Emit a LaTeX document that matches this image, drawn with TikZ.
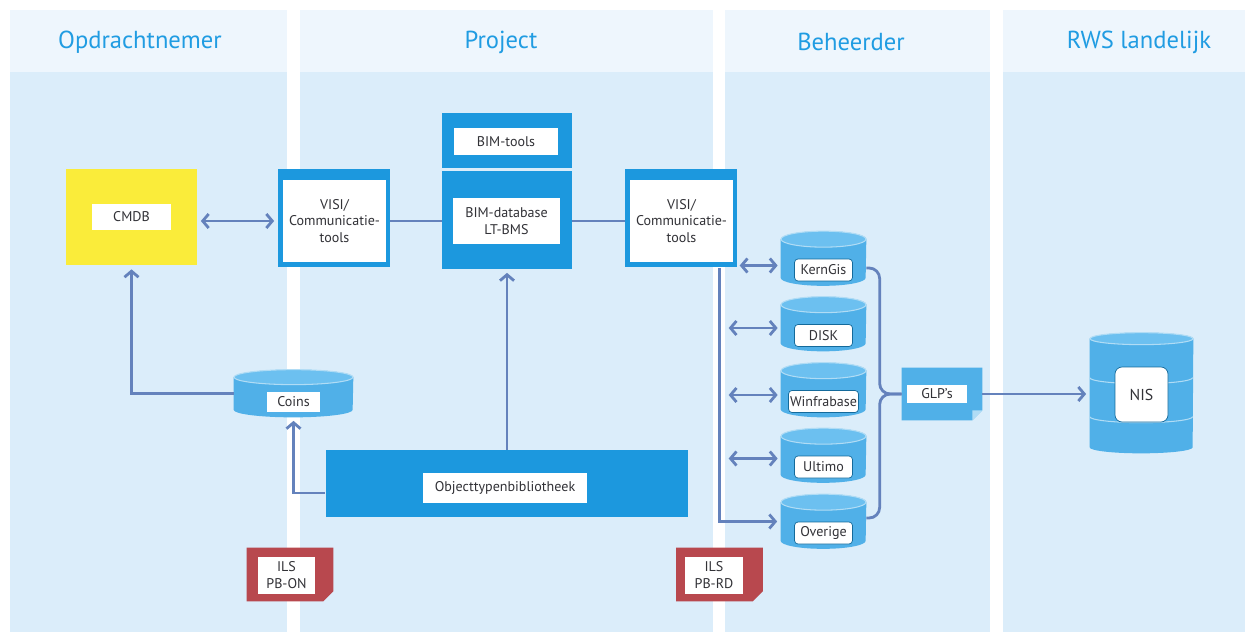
\documentclass[tikz,border=0pt]{standalone}
\usepackage{fontspec}
\setmainfont{PT Sans}
\usetikzlibrary{arrows.meta}

\definecolor{hdrbg}{RGB}{238,246,253}
\definecolor{bodybg}{RGB}{219,237,250}
\definecolor{headblue}{RGB}{32,156,226}
\definecolor{rwsblue}{RGB}{28,152,222}
\definecolor{cylblue}{RGB}{80,176,232}
\definecolor{cyltop}{RGB}{108,192,240}
\definecolor{linkblue}{RGB}{100,130,188}
\definecolor{cmdbyellow}{RGB}{250,236,58}
\definecolor{ilsred}{RGB}{184,72,78}
\definecolor{tagtext}{RGB}{50,50,55}

% cylinder body behind a node: name, half width, cap radius
\newcommand\dbbody[3]{%
  \fill[cylblue] ([yshift=-#3]#1.north west) -- ([yshift=#3]#1.south west)
    arc[start angle=180, end angle=360, x radius=#2, y radius=#3]
    -- ([yshift=-#3]#1.north east)
    arc[start angle=0, end angle=180, x radius=#2, y radius=#3] -- cycle;
  \draw[white!55!cylblue, fill=cyltop, line width=0.6pt]
    ([yshift=-#3]#1.north) ellipse[x radius=#2, y radius=#3];
}
% box with the lower right corner cut off: name, colour, cut
\newcommand\cutfill[3]{%
  \fill[#2] (#1.north west) -- (#1.north east) -- ([yshift=#3]#1.south east)
    -- ([xshift=-#3]#1.south east) -- (#1.south west) -- cycle;
}

\begin{document}
\begin{tikzpicture}
  [
    x=0.02cm, y=-0.02cm,
    >={Straight Barb[length=3.4pt,width=8pt]},
    every node/.style={font=\fontsize{8}{9.6}\selectfont, inner sep=0pt, text=tagtext},
    head/.style={font=\fontsize{14}{16}\selectfont, text=headblue},
    tool/.style={fill=rwsblue, minimum width=2.6cm},
    visi/.style={fill=rwsblue, minimum width=2.24cm, minimum height=1.98cm},
    tag/.style={fill=white, align=center},
    db/.style={minimum width=1.7cm, minimum height=1.08cm},
    dbtag/.style={fill=white, draw=rwsblue!70!black, line width=0.4pt,
      rounded corners=2pt, minimum width=1.16cm, minimum height=0.44cm},
    link/.style={draw=linkblue, line width=1.6pt}
  ]
  \fill[white] (0,0) rectangle (1255,635);
  \useasboundingbox (0,0) rectangle (1255,635);

  \foreach \a/\b in {10/287, 300/713, 725/990, 1003/1245} {
    \fill[hdrbg] (\a,10) rectangle (\b,72);
    \fill[bodybg] (\a,72) rectangle (\b,632);
  }

  \node[head] (opdr) at (140,42) {Opdrachtnemer};
  \node[head] (proj) at (501,42) {Project};
  \node[head] (beh) at (851,42) {Beheerder};
  \node[head] (rws) at (1139,42) {RWS landelijk};

  % opdrachtnemer and project
  \node[fill=cmdbyellow, minimum width=2.62cm, minimum height=1.94cm] (cmdb) at (131.5,217) {};
  \node[tag, minimum width=1.6cm, minimum height=0.54cm] (cmdb-t) at (cmdb) {CMDB};

  \node[visi] (visiL) at (334,218) {};
  \node[tag, minimum width=2.06cm, minimum height=1.64cm] (visiL-t) at (334.5,221)
    {VISI/\\Communicatie-\\tools};

  \node[tool, minimum height=1.1cm] (bimt) at (507,140.5) {};
  \node[tag, minimum width=2.08cm, minimum height=0.54cm] (bimt-t) at (506,141.5) {BIM-tools};
  \node[tool, minimum height=1.96cm] (bimdb) at (507,220) {};
  \node[tag, minimum width=2.14cm, minimum height=0.92cm] (bimdb-t) at (506.5,221)
    {BIM-database\\LT-BMS};

  \node[visi] (visiR) at (681,218) {};
  \node[tag, minimum width=2.06cm, minimum height=1.64cm] (visiR-t) at (681.5,221)
    {VISI/\\Communicatie-\\tools};

  \node[fill=rwsblue, minimum width=7.26cm, minimum height=1.34cm] (otb) at (507,483.5) {};
  \node[tag, minimum width=3.28cm, minimum height=0.6cm] (otb-t) at (505,488) {Objecttypenbibliotheek};

  \node[minimum width=2.38cm, minimum height=0.94cm] (coins) at (293.5,393.5) {};
  \dbbody{coins}{1.19cm}{0.15cm}
  \node[tag, minimum width=1.06cm, minimum height=0.4cm] (coins-t) at (293.5,402) {Coins};

  \node[minimum width=1.72cm, minimum height=1.06cm] (ilsON) at (290,574.5) {};
  \cutfill{ilsON}{ilsred}{0.2cm}
  \node[tag, minimum width=1.16cm, minimum height=0.74cm] (ilsON-t) at (286.5,575) {ILS\\PB-ON};

  \node[minimum width=1.72cm, minimum height=1.06cm] (ilsRD) at (719.5,574.5) {};
  \cutfill{ilsRD}{ilsred}{0.2cm}
  \node[tag, minimum width=1.16cm, minimum height=0.74cm] (ilsRD-t) at (714,575) {ILS\\PB-RD};

  % beheerder
  \foreach \n/\y/\t/\w in {kern/258.5/KernGis/1.16, disk/324/DISK/1.16,
      winf/390/Winfrabase/1.4, ult/455.5/Ultimo/1.16, over/521.5/Overige/1.16} {
    \node[db] (\n) at (823.5,\y) {};
    \dbbody{\n}{0.85cm}{0.16cm}
    \node[dbtag, minimum width=\w cm] (\n-t) at ([shift={(0,11.5)}]\n.center) {\t};
  }

  \node[minimum width=1.6cm, minimum height=1.04cm] (glp) at (942,394) {};
  \cutfill{glp}{cylblue}{0.2cm}
  \fill[cylblue!45!white] ([xshift=-0.2cm]glp.south east) -- ([yshift=0.2cm]glp.south east)
    -- ([shift={(-0.2cm,0.2cm)}]glp.south east) -- cycle;
  \node[tag, minimum width=1.2cm, minimum height=0.36cm] (glp-t) at (937,393.5) {GLP’s};

  % rws landelijk
  \node[minimum width=2.06cm, minimum height=2.4cm] (nis) at (1141.5,393) {};
  \dbbody{nis}{1.03cm}{0.12cm}
  \draw[white!55!cylblue, line width=0.6pt] ([yshift=-0.9cm]nis.north west)
    arc[start angle=180, end angle=360, x radius=1.03cm, y radius=0.12cm];
  \draw[white!55!cylblue, line width=0.6pt] ([yshift=-1.68cm]nis.north west)
    arc[start angle=180, end angle=360, x radius=1.03cm, y radius=0.12cm];
  \node[dbtag, minimum width=1.06cm, minimum height=1.1cm, rounded corners=4pt,
    font=\fontsize{9}{11}\selectfont] (nis-t) at (1141.5,394.5) {NIS};

  % connectors
  \draw[link, <->, shorten <=2pt, shorten >=2pt] (cmdb.east |- visiL-t) -- (visiL.west |- visiL-t);
  \draw[link] (visiL.east |- visiL-t) -- (bimdb.west |- visiL-t);
  \draw[link] (bimdb.east |- bimdb-t) -- (visiR.west |- bimdb-t);
  \draw[link, ->, shorten >=2pt] (otb) -- (bimdb);
  \draw[link, ->, shorten >=2pt] (otb.west) ++(0,9.5) -| (coins.south);
  \draw[link, ->, shorten >=2pt] (coins.west) -| (cmdb.south);
  \draw[link, ->, shorten >=2pt] (visiR.south east) ++(-18,0) |- (over.west);
  \foreach \n/\d/\s in {kern/41/7, disk/52/4, winf/52/5, ult/52/3}
    \draw[link, <->] ([shift={(-\d,\s)}]\n.west) -- ([shift={(-3,\s)}]\n.west);

  \draw[link, rounded corners=6pt] (kern.east) ++(0,9.5) -| ([xshift=-0.44cm]glp.west) -- (glp.west);
  \draw[link, rounded corners=6pt] (over.east) ++(0,-3.5) -| ([xshift=-0.44cm]glp.west) -- (glp.west);
  \draw[link, ->, shorten >=2pt] (glp.east) -- (glp.east -| nis.west);

\end{tikzpicture}
\end{document}
